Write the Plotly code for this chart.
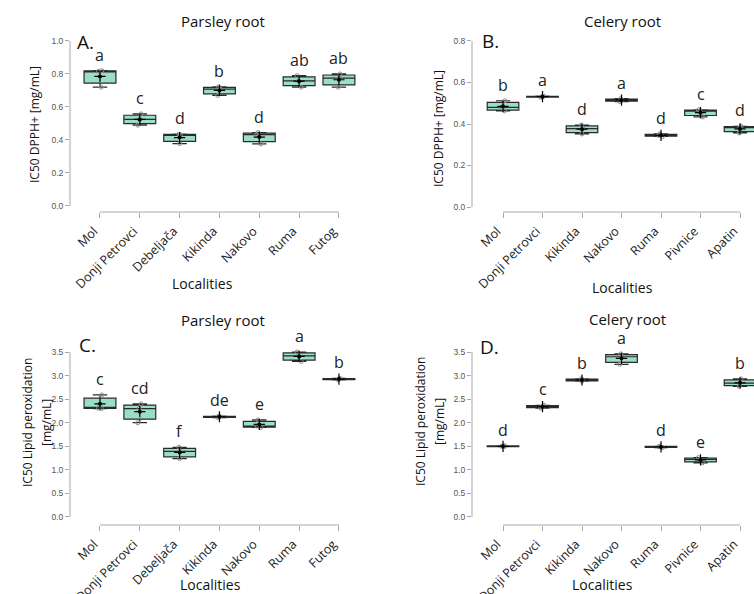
import numpy as np
import plotly.graph_objects as go

# ---------------- data ----------------
parsley_localities = ["Mol", "Donji Petrovci", "Debeljača", "Kikinda", "Nakovo", "Ruma", "Futog"]
celery_localities = ["Mol", "Donji Petrovci", "Kikinda", "Nakovo", "Ruma", "Pivnice", "Apatin"]

# replicate values (mg/mL) per locality
parsley_dpph = [[0.72, 0.816, 0.82], [0.49, 0.525, 0.558], [0.378, 0.43, 0.435],
                [0.67, 0.708, 0.722], [0.376, 0.432, 0.445], [0.72, 0.758, 0.79],
                [0.72, 0.775, 0.80]]
celery_dpph = [[0.463, 0.48, 0.512], [0.529, 0.532, 0.534], [0.352, 0.378, 0.395],
               [0.508, 0.515, 0.522], [0.340, 0.345, 0.352], [0.434, 0.462, 0.468],
               [0.357, 0.383, 0.389]]
parsley_lipid = [[2.30, 2.31, 2.59], [2.00, 2.30, 2.40], [1.24, 1.39, 1.48],
                 [2.11, 2.13, 2.14], [1.90, 1.93, 2.06], [3.30, 3.42, 3.50],
                 [2.91, 2.93, 2.94]]
celery_lipid = [[1.49, 1.50, 1.51], [2.31, 2.34, 2.37], [2.88, 2.91, 2.93],
                [3.24, 3.40, 3.46], [1.47, 1.49, 1.50], [1.15, 1.22, 1.26],
                [2.77, 2.84, 2.93]]

parsley_dpph_groups = ["a", "c", "d", "b", "d", "ab", "ab"]
celery_dpph_groups = ["b", "a", "d", "a", "d", "c", "d"]
parsley_lipid_groups = ["c", "cd", "f", "de", "e", "a", "b"]
celery_lipid_groups = ["d", "c", "b", "a", "d", "e", "b"]

dpph_ticks = [0.0, 0.2, 0.4, 0.6, 0.8, 1.0]
dpph_ticks_b = [0.0, 0.2, 0.4, 0.6, 0.8]
lipid_ticks = [0.0, 0.5, 1.0, 1.5, 2.0, 2.5, 3.0, 3.5]

# ---------------- layout helpers ----------------
W, H = 754, 594
def fx(p):
    return p / W
def fy(p):
    return 1 - p / H

FONT = "Open Sans"
FILL = "rgba(120, 210, 185, 0.75)"

panels = [
    dict(ax="", cats=parsley_localities, data=parsley_dpph, groups=parsley_dpph_groups,
         xdom=[fx(70), fx(370)], xr=[-0.753, 6.78], ydom=[fy(212), fy(36)], yr=[-0.0364, 1.030],
         ticks=dpph_ticks, title="Parsley root", tpos=(223, 21), letter="A.", lpos=(85, 42),
         ytitle=["IC50 DPPH+ [mg/mL]"], ytx=[35], yty=125, xtpos=(202, 283)),
    dict(ax="2", cats=celery_localities, data=celery_dpph, groups=celery_dpph_groups,
         xdom=[fx(472), 1.0], xr=[-0.785, 6.354], ydom=[fy(212), fy(36)], yr=[-0.024, 0.824],
         ticks=dpph_ticks_b, title="Celery root", tpos=(622, 21), letter="B.", lpos=(491, 41),
         ytitle=["IC50 DPPH+ [mg/mL]"], ytx=[439], yty=129, xtpos=(622, 287)),
    dict(ax="3", cats=parsley_localities, data=parsley_lipid, groups=parsley_lipid_groups,
         xdom=[fx(70), fx(370)], xr=[-0.753, 6.78], ydom=[fy(525), fy(345)], yr=[-0.17, 3.649],
         ticks=lipid_ticks, title="Parsley root", tpos=(223, 320), letter="C.", lpos=(87, 345),
         ytitle=["IC50 Lipid peroxidation", "[mg/mL]"], ytx=[27, 46], yty=423, xtpos=(210, 584)),
    dict(ax="4", cats=celery_localities, data=celery_lipid, groups=celery_lipid_groups,
         xdom=[fx(472), 1.0], xr=[-0.785, 6.354], ydom=[fy(525), fy(345)], yr=[-0.17, 3.649],
         ticks=lipid_ticks, title="Celery root", tpos=(627, 319), letter="D.", lpos=(489, 347),
         ytitle=["IC50 Lipid peroxidation", "[mg/mL]"], ytx=[420, 439], yty=422, xtpos=(602, 584)),
]

fig = go.Figure()
annotations = []
shapes = []
layout_axes = {}

for p in panels:
    xa = "x" + p["ax"]
    ya = "y" + p["ax"]
    cats, data = p["cats"], p["data"]
    xs = [c for c, vals in zip(cats, data) for _ in vals]
    ys = [v for vals in data for v in vals]
    fig.add_trace(go.Box(
        x=xs, y=ys, xaxis=xa, yaxis=ya, boxpoints="all", jitter=0.15, pointpos=0,
        width=0.8, whiskerwidth=0.45, quartilemethod="linear",
        fillcolor=FILL, line=dict(color="#2a2a2a", width=1.2),
        marker=dict(symbol="circle-open", color="#8c8c8c", size=4, line=dict(width=1)),
        showlegend=False, hoverinfo="y"))
    means = [float(np.mean(v)) for v in data]
    fig.add_trace(go.Scatter(
        x=cats, y=means, xaxis=xa, yaxis=ya, mode="markers", showlegend=False,
        marker=dict(symbol="cross-thin", size=8, color="black", line=dict(width=1.2, color="black"))))
    fig.add_trace(go.Scatter(
        x=cats, y=means, xaxis=xa, yaxis=ya, mode="markers", showlegend=False,
        marker=dict(symbol="circle", size=4, color="black")))
    # group letters
    for c, vals, g in zip(cats, data, p["groups"]):
        annotations.append(dict(x=c, y=max(vals), xref=xa, yref=ya, text=g, showarrow=False,
                                yanchor="bottom", yshift=3, font=dict(family=FONT, size=16, color="#222")))
    # axis lines spanning tick range
    shapes.append(dict(type="line", xref=xa, yref=ya + " domain", x0=0, x1=len(cats) - 1, y0=0, y1=0,
                       line=dict(color="#a8a8a8", width=1)))
    shapes.append(dict(type="line", xref=xa + " domain", yref=ya, x0=0, x1=0,
                       y0=p["ticks"][0], y1=p["ticks"][-1], line=dict(color="#a8a8a8", width=1)))
    # titles
    annotations.append(dict(x=fx(p["tpos"][0]), y=fy(p["tpos"][1]), xref="paper", yref="paper",
                            text=p["title"], showarrow=False, xanchor="center", yanchor="middle",
                            font=dict(family=FONT, size=15, color="#111")))
    annotations.append(dict(x=fx(p["lpos"][0]), y=fy(p["lpos"][1]), xref="paper", yref="paper",
                            text=p["letter"], showarrow=False, xanchor="center", yanchor="middle",
                            font=dict(family=FONT, size=19, color="#111")))
    for t, tx in zip(p["ytitle"], p["ytx"]):
        annotations.append(dict(x=fx(tx), y=fy(p["yty"]), xref="paper", yref="paper", text=t,
                                showarrow=False, textangle=-90, xanchor="center", yanchor="middle",
                                font=dict(family=FONT, size=12, color="#111")))
    annotations.append(dict(x=fx(p["xtpos"][0]), y=fy(p["xtpos"][1]), xref="paper", yref="paper",
                            text="Localities", showarrow=False, xanchor="center", yanchor="middle",
                            font=dict(family=FONT, size=14, color="#111")))

    xkey = "xaxis" + p["ax"]
    ykey = "yaxis" + p["ax"]
    layout_axes[xkey] = dict(domain=p["xdom"], range=p["xr"], anchor=ya, type="category",
                             categoryorder="array", categoryarray=cats,
                             showgrid=False, zeroline=False, showline=False,
                             ticks="outside", ticklen=5, tickcolor="#a8a8a8", tickangle=-45,
                             ticklabelstandoff=1, ticklabelshift=-6,
                             tickfont=dict(family=FONT, size=12.5, color="#222"), automargin=False)
    layout_axes[ykey] = dict(domain=p["ydom"], range=p["yr"], anchor=xa,
                             tickvals=p["ticks"], tickformat=".1f",
                             showgrid=False, zeroline=False, showline=False,
                             ticks="outside", ticklen=4, tickcolor="#a8a8a8",
                             tickfont=dict(family="Liberation Sans", size=8.5, color="#555"),
                             automargin=False)

fig.update_layout(
    template="none", width=W, height=H, margin=dict(l=0, r=0, t=0, b=0),
    paper_bgcolor="white", plot_bgcolor="white", showlegend=False,
    annotations=annotations, shapes=shapes, **layout_axes)

fig.write_html("out.html", config={"displayModeBar": False},
               post_script="document.body.style.margin='0px';")
